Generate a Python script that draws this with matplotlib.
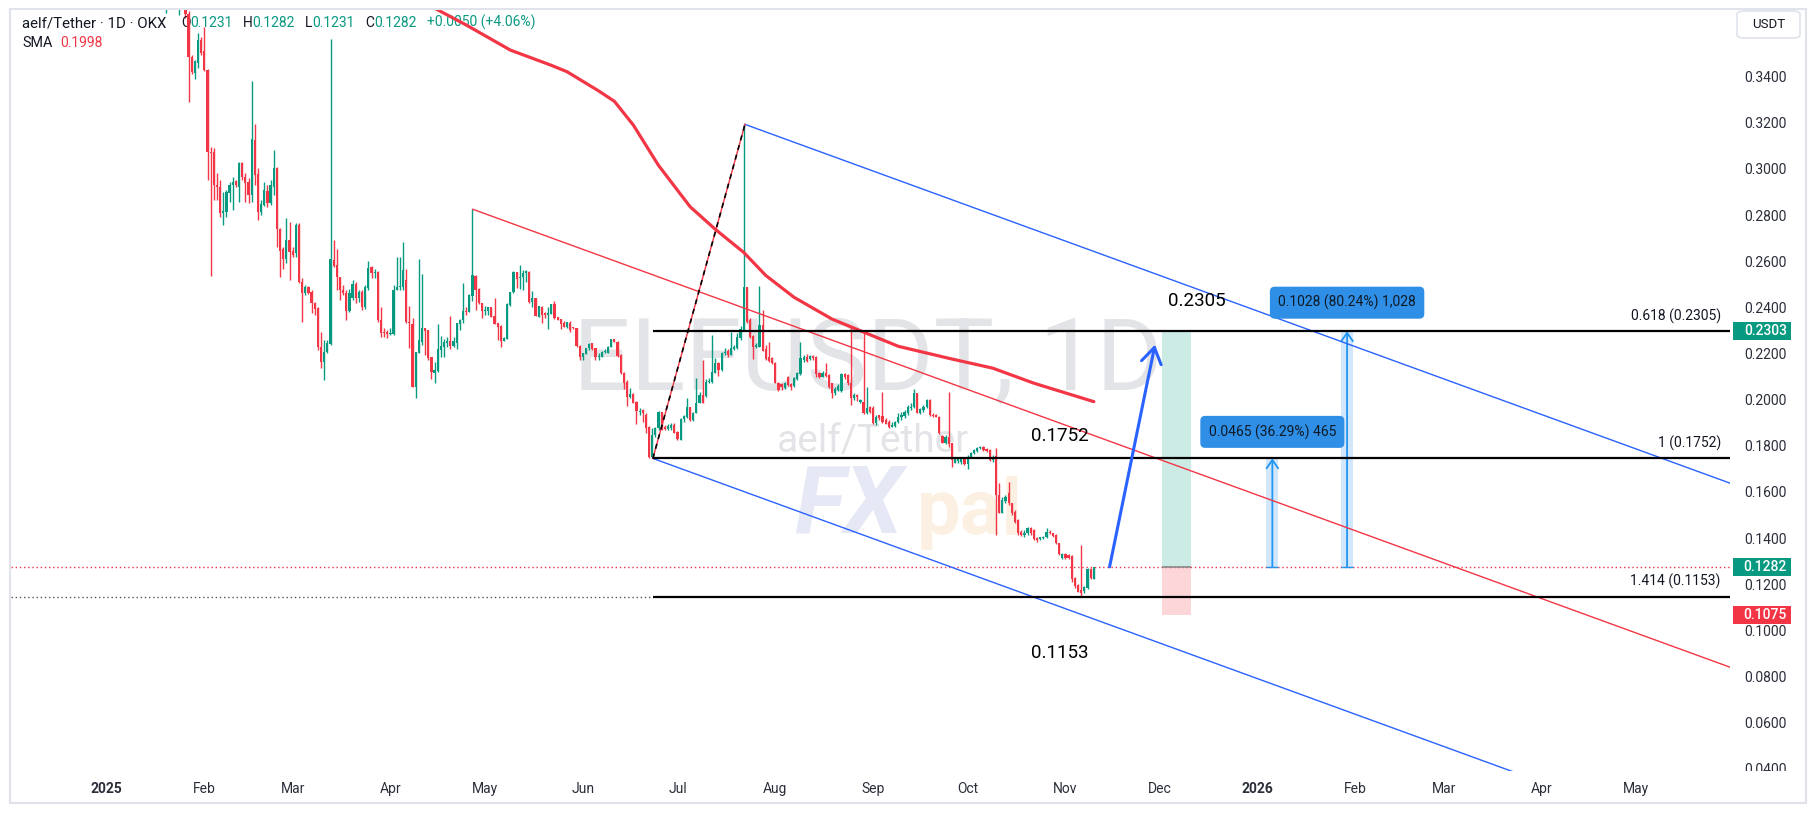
import matplotlib
matplotlib.use("Agg")
import matplotlib.pyplot as plt
from matplotlib.patches import Rectangle, FancyBboxPatch
import numpy as np
import pandas as pd

plt.rcParams['font.family'] = ['Roboto', 'DejaVu Sans']

# ---------------- data ----------------
epoch = pd.Timestamp("2025-01-01")
first_candle = "2025-01-20"

opens = [
 .3710,.3800,.3900,.3830,.3720,.3820,.3750,.3678,.3490,.3421,
 .3464,.3566,.3520,.3436,.3081,.3081,.2937,.2930,.2814,.2822,
 .2904,.2935,.2954,.2930,.3031,.2970,.2948,.2894,.3132,.2985,
 .2822,.2851,.2911,.2858,.2930,.3009,.2745,.2658,.2615,.2699,
 .2651,.2641,.2764,.2518,.2470,.2496,.2475,.2424,.2402,.2236,
 .2171,.2215,.2248,.2612,.2590,.2537,.2482,.2470,.2392,.2449,
 .2508,.2449,.2475,.2407,.2489,.2583,.2554,.2561,.2352,.2301,
 .2300,.2290,.2290,.2482,.2493,.2493,.2525,.2345,.2334,.2060,
 .2210,.2258,.2316,.2309,.2193,.2124,.2132,.2224,.2236,.2251,
 .2261,.2241,.2253,.2336,.2352,.2392,.2387,.2457,.2543,.2486,
 .2424,.2390,.2390,.2407,.2369,.2338,.2326,.2262,.2270,.2417,
 .2474,.2560,.2533,.2537,.2557,.2560,.2431,.2446,.2366,.2410,
 .2381,.2374,.2377,.2421,.2364,.2355,.2341,.2323,.2341,.2319,
 .2319,.2241,.2193,.2203,.2229,.2251,.2229,.2190,.2193,.2213,
 .2210,.2236,.2268,.2258,.2200,.2124,.2085,.2017,.2031,.1998,
 .1955,.1962,.1940,.1889,.1760,.1853,.1882,.1955,.1889,.1878,
 .1882,.1897,.1868,.1832,.1921,.1933,.1973,.1918,.1947,.1991,
 .2027,.2021,.2085,.2085,.2124,.2164,.2135,.2207,.2218,.2200,
 .2225,.2229,.2273,.2309,.2494,.2352,.2283,.2234,.2236,.2330,
 .2225,.2190,.2186,.2167,.2080,.2074,.2056,.2106,.2074,.2066,
 .2096,.2119,.2178,.2193,.2181,.2196,.2190,.2121,.2106,.2124,
 .2114,.2077,.2034,.2048,.2046,.2118,.2114,.2078,.2015,.2028,
 .1998,.1998,.1947,.1973,.1969,.1904,.1940,.1937,.1918,.1911,
 .1890,.1891,.1908,.1930,.1937,.1950,.1969,.1973,.2034,.1950,
 .1962,.1973,.2005,.1940,.1940,.1933,.1850,.1820,.1846,.1817,
 .1734,.1742,.1738,.1748,.1728,.1756,.1775,.1786,.1797,.1803,
 .1791,.1789,.1745,.1762,.1593,.1517,.1569,.1600,.1557,.1521,
 .1485,.1435,.1420,.1427,.1449,.1442,.1406,.1404,.1406,.1410,
 .1435,.1427,.1420,.1384,.1319,.1338,.1333,.1329,.1232,.1203,
 .1182,.1179,.1189,.1271,.1231]
highs = [
 .3850,.3950,.3980,.3880,.3870,.3860,.3780,.3690,.3500,.3479,
 .3595,.3580,.3623,.3440,.3103,.3096,.2988,.2959,.2908,.2915,
 .2952,.2973,.2959,.3038,.3038,.2988,.2966,.3389,.3201,.3009,
 .2872,.2952,.2937,.2959,.3089,.3017,.2749,.2670,.2793,.2778,
 .2670,.2771,.2771,.2532,.2503,.2500,.2482,.2431,.2410,.2301,
 .2265,.2265,.3568,.2699,.2658,.2540,.2503,.2482,.2485,.2525,
 .2518,.2482,.2482,.2503,.2609,.2586,.2571,.2565,.2410,.2316,
 .2308,.2316,.2503,.2623,.2626,.2691,.2572,.2413,.2359,.2215,
 .2617,.2551,.2316,.2310,.2193,.2171,.2335,.2283,.2268,.2280,
 .2369,.2280,.2340,.2355,.2514,.2410,.2465,.2832,.2546,.2489,
 .2427,.2413,.2410,.2410,.2449,.2341,.2329,.2280,.2424,.2475,
 .2566,.2562,.2590,.2569,.2569,.2563,.2476,.2447,.2413,.2413,
 .2388,.2410,.2421,.2436,.2364,.2355,.2346,.2345,.2349,.2320,
 .2319,.2244,.2210,.2232,.2251,.2254,.2229,.2207,.2219,.2225,
 .2239,.2271,.2271,.2261,.2203,.2127,.2092,.2056,.2034,.2001,
 .1969,.1965,.1950,.1892,.1882,.1887,.1959,.1955,.1897,.1901,
 .1904,.1904,.1872,.1926,.1940,.2015,.1976,.1955,.2102,.2041,
 .2179,.2098,.2099,.2287,.2186,.2171,.2215,.2229,.2225,.2301,
 .2243,.2297,.2326,.3200,.2497,.2359,.2287,.2254,.2499,.2395,
 .2244,.2258,.2193,.2170,.2083,.2078,.2085,.2109,.2078,.2106,
 .2128,.2258,.2200,.2204,.2200,.2200,.2196,.2128,.2132,.2167,
 .2118,.2080,.2063,.2074,.2121,.2124,.2118,.2316,.2034,.2033,
 .2008,.2306,.2063,.1979,.1979,.1940,.1942,.2041,.1926,.1919,
 .1911,.1915,.1950,.1955,.1962,.1984,.1991,.2051,.2037,.1969,
 .1984,.2008,.2008,.1947,.1943,.1936,.1854,.1854,.2041,.1817,
 .1759,.1752,.1759,.1752,.1767,.1781,.1791,.1803,.1806,.1806,
 .1796,.1791,.1767,.1796,.1647,.1586,.1593,.1649,.1560,.1528,
 .1488,.1442,.1442,.1453,.1453,.1445,.1413,.1413,.1416,.1449,
 .1442,.1430,.1423,.1387,.1341,.1341,.1338,.1333,.1240,.1207,
 .1377,.1199,.1276,.1276,.1282]
lows = [
 .3683,.3780,.3800,.3710,.3674,.3720,.3660,.3298,.3420,.3395,
 .3443,.3500,.3433,.2959,.2543,.2872,.2872,.2800,.2764,.2800,
 .2865,.2829,.2930,.2865,.2959,.2865,.2858,.2865,.2937,.2785,
 .2807,.2846,.2843,.2850,.2894,.2670,.2537,.2572,.2598,.2525,
 .2626,.2626,.2511,.2345,.2460,.2465,.2381,.2373,.2222,.2145,
 .2092,.2207,.2243,.2583,.2482,.2439,.2460,.2352,.2388,.2439,
 .2424,.2431,.2395,.2398,.2482,.2532,.2532,.2345,.2280,.2280,
 .2272,.2287,.2287,.2480,.2482,.2482,.2340,.2229,.2060,.2013,
 .2210,.2244,.2200,.2179,.2095,.2080,.2128,.2193,.2193,.2234,
 .2225,.2236,.2228,.2309,.2338,.2374,.2386,.2436,.2395,.2421,
 .2359,.2374,.2374,.2363,.2334,.2265,.2236,.2259,.2270,.2413,
 .2468,.2489,.2485,.2482,.2518,.2427,.2410,.2369,.2366,.2338,
 .2359,.2313,.2377,.2358,.2352,.2312,.2323,.2316,.2301,.2314,
 .2236,.2179,.2179,.2203,.2222,.2222,.2179,.2179,.2193,.2207,
 .2207,.2236,.2255,.2193,.2118,.2051,.1979,.2013,.1994,.1901,
 .1940,.1911,.1861,.1755,.1752,.1846,.1875,.1875,.1875,.1875,
 .1875,.1864,.1832,.1832,.1911,.1926,.1916,.1916,.1947,.1991,
 .1991,.2019,.2078,.2080,.2121,.2109,.2132,.2200,.2193,.2199,
 .2222,.2225,.2265,.2306,.2340,.2273,.2181,.2229,.2234,.2219,
 .2179,.2171,.2160,.2078,.2046,.2048,.2051,.2066,.2048,.2063,
 .2092,.2114,.2171,.2171,.2179,.2179,.2106,.2099,.2103,.2106,
 .2056,.2012,.2027,.2046,.2041,.2098,.2070,.1983,.2005,.2003,
 .1991,.1944,.1944,.1950,.1901,.1897,.1919,.1907,.1900,.1882,
 .1888,.1888,.1904,.1919,.1926,.1940,.1962,.1969,.1947,.1945,
 .1955,.1969,.1936,.1933,.1930,.1858,.1817,.1815,.1803,.1716,
 .1731,.1731,.1728,.1723,.1705,.1752,.1771,.1780,.1791,.1786,
 .1781,.1741,.1738,.1420,.1514,.1514,.1560,.1550,.1507,.1474,
 .1420,.1416,.1413,.1420,.1420,.1398,.1391,.1398,.1401,.1406,
 .1425,.1410,.1381,.1333,.1315,.1315,.1315,.1218,.1189,.1171,
 .1153,.1167,.1185,.1228,.1231]
closes = [
 .3800,.3900,.3830,.3720,.3820,.3750,.3678,.3490,.3428,.3475,
 .3566,.3508,.3436,.3081,.3074,.2937,.2927,.2814,.2826,.2908,
 .2937,.2952,.2937,.3031,.2970,.2944,.2894,.3135,.2980,.2822,
 .2855,.2915,.2858,.2937,.3009,.2745,.2652,.2615,.2699,.2648,
 .2634,.2764,.2518,.2470,.2496,.2470,.2424,.2398,.2233,.2171,
 .2215,.2251,.2615,.2587,.2537,.2482,.2467,.2392,.2470,.2508,
 .2449,.2475,.2407,.2493,.2576,.2554,.2557,.2352,.2294,.2294,
 .2290,.2294,.2482,.2493,.2501,.2568,.2345,.2338,.2063,.2215,
 .2265,.2316,.2306,.2186,.2128,.2135,.2226,.2239,.2258,.2261,
 .2241,.2261,.2338,.2352,.2391,.2387,.2461,.2546,.2482,.2427,
 .2390,.2395,.2407,.2364,.2335,.2323,.2262,.2273,.2421,.2474,
 .2560,.2531,.2537,.2557,.2563,.2431,.2446,.2371,.2413,.2374,
 .2374,.2381,.2421,.2361,.2352,.2335,.2323,.2345,.2309,.2316,
 .2239,.2193,.2207,.2229,.2248,.2225,.2190,.2196,.2215,.2217,
 .2236,.2268,.2258,.2197,.2121,.2080,.2017,.2031,.1994,.1959,
 .1959,.1947,.1882,.1760,.1853,.1882,.1955,.1882,.1878,.1892,
 .1897,.1864,.1835,.1921,.1936,.1976,.1918,.1950,.1991,.2027,
 .1994,.2085,.2089,.2128,.2164,.2135,.2208,.2215,.2200,.2229,
 .2236,.2277,.2312,.2494,.2345,.2277,.2236,.2244,.2330,.2219,
 .2181,.2176,.2164,.2080,.2048,.2060,.2080,.2070,.2060,.2099,
 .2124,.2186,.2193,.2176,.2196,.2186,.2118,.2106,.2121,.2109,
 .2063,.2034,.2051,.2066,.2118,.2103,.2078,.2012,.2027,.2018,
 .2005,.1947,.1969,.1955,.1904,.1930,.1926,.1911,.1901,.1890,
 .1897,.1911,.1933,.1940,.1955,.1976,.1976,.2034,.1950,.1965,
 .1976,.2005,.1940,.1936,.1933,.1861,.1820,.1846,.1815,.1745,
 .1748,.1748,.1748,.1728,.1759,.1776,.1789,.1799,.1800,.1789,
 .1786,.1745,.1759,.1593,.1517,.1572,.1586,.1557,.1514,.1478,
 .1427,.1420,.1430,.1449,.1427,.1401,.1398,.1410,.1413,.1435,
 .1427,.1416,.1384,.1338,.1338,.1319,.1319,.1228,.1199,.1175,
 .1170,.1196,.1271,.1232,.1282]

sma_dates = ["2025-04-06", "2025-04-12", "2025-04-25", "2025-05-09", "2025-05-22",
             "2025-05-27", "2025-06-06", "2025-06-11", "2025-06-17", "2025-06-25",
             "2025-07-05", "2025-07-13", "2025-07-22", "2025-07-29", "2025-08-07",
             "2025-08-19", "2025-08-30", "2025-09-09", "2025-09-25", "2025-10-09",
             "2025-10-22", "2025-11-10"]
sma_values = [.3769, .3725, .3631, .3522, .3456, .3428, .3345, .3300, .3197, .3022,
              .2843, .2745, .2645, .2545, .2450, .2356, .2294, .2238, .2186, .2143,
              .2078, .1998]

month_ticks = ["2025-01-01", "2025-02-01", "2025-03-01", "2025-04-01", "2025-05-01",
               "2025-06-01", "2025-07-01", "2025-08-01", "2025-09-01", "2025-10-01",
               "2025-11-01", "2025-12-01", "2026-01-01", "2026-02-01", "2026-03-01",
               "2026-04-01", "2026-05-01"]
month_labels = ["2025", "Feb", "Mar", "Apr", "May", "Jun", "Jul", "Aug", "Sep", "Oct",
                "Nov", "Dec", "2026", "Feb", "Mar", "Apr", "May"]
price_ticks = [0.04, 0.06, 0.08, 0.10, 0.12, 0.14, 0.16, 0.18, 0.20, 0.22, 0.24,
               0.26, 0.28, 0.30, 0.32, 0.34]

# drawings (anchors in days since 2025-01-01, prices)
swing_low = (173.2, 0.1752)
swing_high = (202.4, 0.3200)
may_high = (116.1, 0.2832)
channel_slope = -0.000498          # price per day
fib_ratio_labels = ["0.618", "1", "1.414"]
fib_levels = [0.2305, 0.1752, 0.1153]
last_price = 0.1282
arrow_from = (318.0, 0.1282)
arrow_to = (332.4, 0.2245)
pos_x = (334.5, 343.7)
pos_target, pos_stop = 0.2303, 0.1075
ranges = [(369.6, 0.1282, 0.1752, "0.0465 (36.29%) 465", 0.1867),
          (393.3, 0.1282, 0.2303, "0.1028 (80.24%) 1,028", 0.2427)]

# ---------------- style ----------------
GREEN = "#089981"
RED = "#f23645"
BLUE = "#2962ff"
DARK = "#131722"
AXC = "#2a2e39"
W, H = 1818, 816

fig = plt.figure(figsize=(W / 100, H / 100), dpi=100, facecolor="white")
ax_l, ax_r, ax_t, ax_b = 11, 1730, 10, 771
ax = fig.add_axes([ax_l / W, 1 - ax_b / H, (ax_r - ax_l) / W, (ax_b - ax_t) / H])
XMIN, XMAX = -30.3, 514.7
YMIN, YMAX = 0.0397, 0.36957
ax.set_xlim(XMIN, XMAX)
ax.set_ylim(YMIN, YMAX)
for s in ax.spines.values():
    s.set_visible(False)
ax.set_facecolor("white")

def day_of(s):
    return (pd.Timestamp(s) - epoch).days

# watermark
ax.text(241.4, 0.2049, "ELFUSDT, 1D", fontsize=73, color="#e3e4e7", ha="center",
        va="baseline", zorder=0.5)
ax.text(243.1, 0.1780, "aelf/Tether", fontsize=28, color="#e3e4e7", ha="center",
        va="baseline", zorder=0.5)
ax.text(218.0, 0.1430, "FX", fontsize=68, color="#e6e8f6", ha="left", va="baseline",
        fontweight="bold", fontstyle="italic", zorder=0.5)
ax.text(257.0, 0.1425, "pal", fontsize=56, color="#fcf0e2", ha="left", va="baseline",
        fontweight="bold", zorder=0.5)

# candles
o = np.array(opens); h = np.array(highs); l = np.array(lows); c = np.array(closes)
x = day_of(first_candle) + np.arange(len(o))
col = np.where(c >= o, GREEN, RED)
ax.vlines(x, l, h, colors=col, lw=1.0, zorder=3)
ax.bar(x, np.maximum(np.abs(c - o), 0.00045), bottom=np.minimum(o, c), width=0.7,
       color=col, lw=0, zorder=3.5)

# SMA
sx = [day_of(d) for d in sma_dates]
ax.plot(sx, sma_values, color=RED, lw=2.3, zorder=5, solid_capstyle="round")

# current price dotted line & low dotted line
ax.axhline(last_price, color=RED, lw=1, ls=(0, (1, 2)), zorder=4)
ax.hlines(fib_levels[2], XMIN, swing_low[0], color="#555555", lw=1, ls=(0, (1, 2)), zorder=4)

# channel lines
far = 700
def chan(anchor):
    return [anchor[0], far], [anchor[1], anchor[1] + channel_slope * (far - anchor[0])]
for anc, cl in ((swing_high, BLUE), (swing_low, BLUE), (may_high, RED)):
    xs, ys = chan(anc)
    ax.plot(xs, ys, color=cl, lw=1.0, zorder=5)

# fib trend line (red under black dashes)
ax.plot([swing_low[0], swing_high[0]], [swing_low[1], swing_high[1]], color=RED, lw=1.0, zorder=5)
ax.plot([swing_low[0], swing_high[0]], [swing_low[1], swing_high[1]], color="black", lw=1.2,
        ls=(0, (3, 3)), zorder=5.1)

# fib levels
for lab, lvl in zip(fib_ratio_labels, fib_levels):
    ax.hlines(lvl, swing_low[0], XMAX, color="black", lw=1.6, zorder=6)
    ax.annotate(f"{lab} ({lvl:.4f})", xy=(511.8, lvl), xytext=(0, 15), textcoords="offset pixels",
                ha="right", va="center", fontsize=10, color=DARK, zorder=7)

# big labels
for txt, xx, yy in (("0.2305", 345.5, 0.2434), ("0.1752", 302.3, 0.1849), ("0.1153", 302.3, 0.0909)):
    ax.text(xx, yy, txt, fontsize=13.5, color="black", ha="center", va="center", zorder=7)

# position box
ax.add_patch(Rectangle((pos_x[0], last_price), pos_x[1] - pos_x[0], pos_target - last_price,
                       facecolor="#cdebe5", edgecolor="none", zorder=2))
ax.add_patch(Rectangle((pos_x[0], pos_stop), pos_x[1] - pos_x[0], last_price - pos_stop,
                       facecolor="#fcd6d9", edgecolor="none", zorder=2))
ax.hlines(last_price, pos_x[0], pos_x[1], color="#888888", lw=1.2, zorder=4.5)

# blue projection arrow
ax.annotate("", xy=arrow_to, xytext=arrow_from,
            arrowprops=dict(arrowstyle="->,head_length=0.7,head_width=0.45", color=BLUE, lw=2.2,
                            shrinkA=0, shrinkB=0, mutation_scale=16), zorder=7)

# price range tools
for cx, y0, y1, lab, ly in ranges:
    hw = 1.9
    ax.add_patch(Rectangle((cx - hw, y0), 2 * hw, y1 - y0, facecolor="#d2e7fb",
                           edgecolor="none", zorder=2))
    ax.hlines(y0, cx - hw, cx + hw, color="#2196f3", lw=1, zorder=4.6)
    ax.annotate("", xy=(cx, y1), xytext=(cx, y0),
                arrowprops=dict(arrowstyle="->,head_length=0.5,head_width=0.35", color="#2196f3",
                                lw=1.3, shrinkA=0, shrinkB=0, mutation_scale=12), zorder=4.7)
    ax.text(cx, ly, lab, fontsize=10, color="#0f1a26", ha="center", va="center", zorder=8,
            bbox=dict(boxstyle="round,pad=0.6,rounding_size=0.35", fc="#2f8fe6", ec="none"))

# x axis
ax.set_xticks([day_of(d) for d in month_ticks])
ax.set_xticklabels(month_labels)
ax.tick_params(axis="x", length=0, pad=8, labelsize=10, labelcolor=AXC)
for t in ax.get_xticklabels():
    if t.get_text() in ("2025", "2026"):
        t.set_fontweight("bold")
ax.set_yticks([])

# price axis panel
pax = fig.add_axes([ax_r / W, 1 - ax_b / H, 88 / W, (ax_b - ax_t) / H])
pax.set_xlim(0, 1)
pax.set_ylim(YMIN, YMAX)
pax.axis("off")
for v in price_ticks:
    pax.text(0.40, v, f"{v:.4f}", ha="center", va="center", fontsize=10, color=AXC, clip_on=True)
tag_h = 18 / 2307
for val, cl in ((0.2303, GREEN), (0.1282, GREEN), (0.1075, RED)):
    pax.add_patch(Rectangle((0.03, val - tag_h / 2), 0.66, tag_h, facecolor=cl, edgecolor="none",
                            zorder=5))
    pax.text(0.40, val, f"{val:.4f}", ha="center", va="center", fontsize=10, color="white",
             fontweight="medium", zorder=6)

# USDT box
fig.patches.append(FancyBboxPatch((1737 / W, 1 - 38 / H), 63 / W, 27 / H,
                                  boxstyle="round,pad=0,rounding_size=0.004",
                                  transform=fig.transFigure, facecolor="white",
                                  edgecolor="#e0e3eb", lw=1.2))
fig.text(1768.5 / W, 1 - 24.5 / H, "USDT", ha="center", va="center", fontsize=9.5, color=DARK)

# legend (pieces chained left to right, gap in points before each piece)
def legend_row(pieces, x0, base, fs0=10):
    yb = 1 - base / H
    prev = fig.text(x0 / W, yb, pieces[0][0], color=pieces[0][1], fontsize=fs0,
                    va="baseline", ha="left")
    for s, cl, gap in pieces[1:]:
        prev = ax.annotate(s, xy=(1, yb), xycoords=(prev, "figure fraction"),
                           xytext=(gap, 0), textcoords="offset points", va="baseline",
                           ha="left", fontsize=10, color=cl, annotation_clip=False)

G = 7.4
legend_row([("aelf/Tether · 1D · OKX", DARK), ("O", DARK, G + 3), ("0.1231", GREEN, 0),
            ("H", DARK, G), ("0.1282", GREEN, 0), ("L", DARK, G), ("0.1231", GREEN, 0),
            ("C", DARK, G), ("0.1282", GREEN, 0), ("+0.0050 (+4.06%)", GREEN, G)], 22, 27,
           fs0=10.8)
legend_row([("SMA", DARK), ("0.1998", RED, 6)], 22, 47, fs0=10.4)

# outer frame
fig.patches.append(Rectangle((10 / W, 1 - 803 / H), 1796 / W, 794 / H, transform=fig.transFigure,
                             fill=False, edgecolor="#e0e3eb", lw=1.5))

fig.savefig("out.png", dpi=100, facecolor="white")
